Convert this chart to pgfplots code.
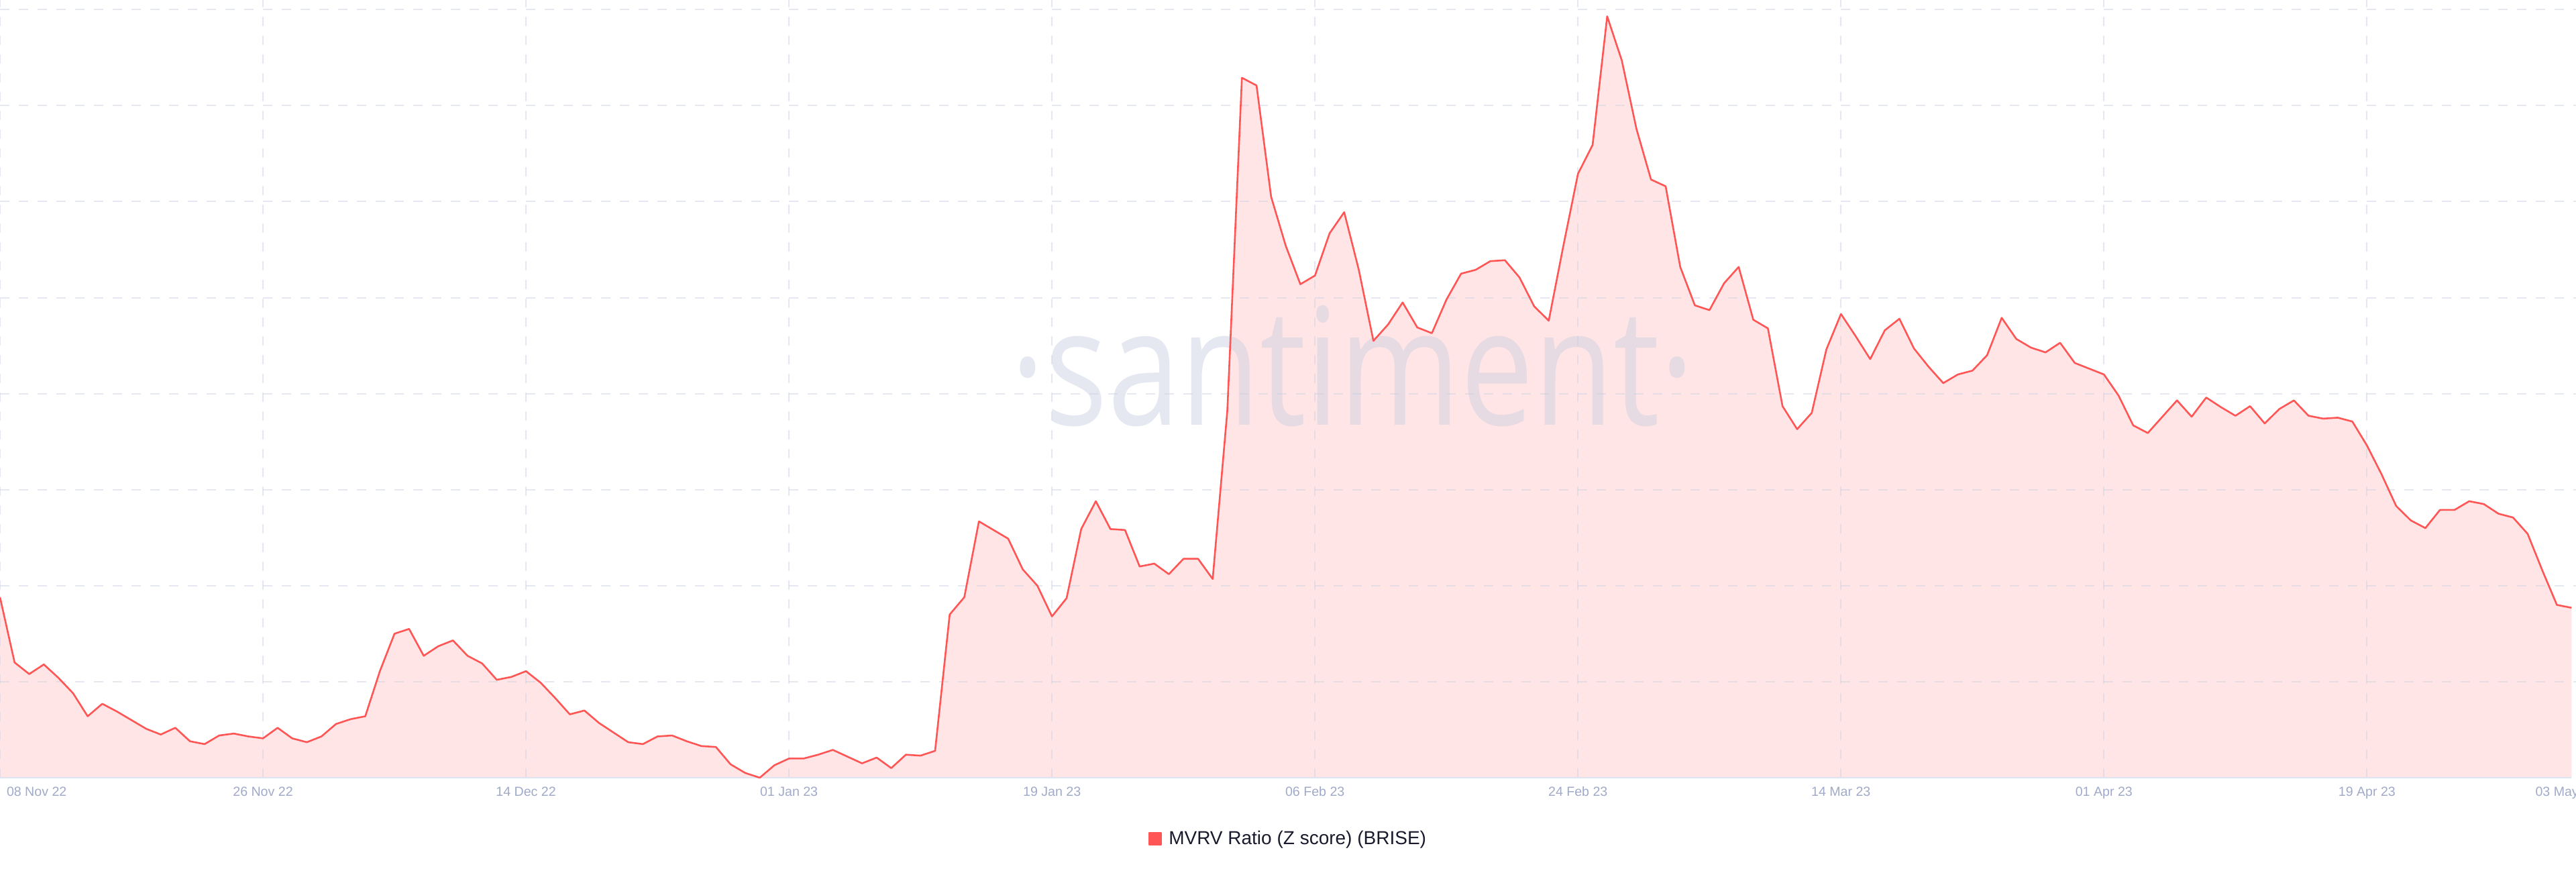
\documentclass[border=0pt]{standalone}
\usepackage{fontspec}
\setmainfont{Liberation Sans}
\newfontfamily\wmfont{Open Sans}
\usepackage{graphicx}
\usepackage{pgfplots}
\usepackage{pgfplotstable}
\pgfplotsset{compat=1.18}

\definecolor{mvrv}{RGB}{255,85,85}
\definecolor{mvrvfill}{RGB}{255,229,230}
\definecolor{gridc}{RGB}{200,205,225}
\definecolor{ticklab}{RGB}{160,170,200}
\definecolor{axisc}{RGB}{220,228,240}
\definecolor{legtext}{RGB}{25,27,45}

% day (0 = 08 Nov 22), MVRV Z score (chart units, no scale shown)
\pgfplotstableread{
day z
0 1.88
1 1.20
2 1.08
3 1.18
4 1.04
5 0.88
6 0.64
7 0.77
8 0.69
9 0.60
10 0.51
11 0.45
12 0.52
13 0.38
14 0.35
15 0.44
16 0.46
17 0.43
18 0.41
19 0.52
20 0.41
21 0.37
22 0.43
23 0.56
24 0.61
25 0.64
26 1.11
27 1.50
28 1.55
29 1.27
30 1.37
31 1.43
32 1.27
33 1.19
34 1.02
35 1.05
36 1.11
37 0.99
38 0.83
39 0.66
40 0.70
41 0.57
42 0.47
43 0.37
44 0.35
45 0.43
46 0.44
47 0.38
48 0.33
49 0.32
50 0.14
51 0.05
52 0.00
53 0.13
54 0.20
55 0.20
56 0.24
57 0.29
58 0.22
59 0.15
60 0.21
61 0.10
62 0.24
63 0.23
64 0.28
65 1.70
66 1.88
67 2.67
68 2.58
69 2.49
70 2.17
71 2.00
72 1.68
73 1.87
74 2.59
75 2.88
76 2.59
77 2.58
78 2.20
79 2.23
80 2.12
81 2.28
82 2.28
83 2.07
84 3.82
85 7.29
86 7.21
87 6.05
88 5.54
89 5.14
90 5.23
91 5.67
92 5.89
93 5.29
94 4.55
95 4.72
96 4.95
97 4.69
98 4.63
99 4.98
100 5.25
101 5.29
102 5.38
103 5.39
104 5.21
105 4.91
106 4.76
107 5.54
108 6.29
109 6.59
110 7.93
111 7.47
112 6.76
113 6.23
114 6.16
115 5.32
116 4.92
117 4.87
118 5.15
119 5.32
120 4.77
121 4.68
122 3.87
123 3.63
124 3.80
125 4.46
126 4.83
127 4.60
128 4.36
129 4.66
130 4.78
131 4.47
132 4.28
133 4.11
134 4.20
135 4.24
136 4.40
137 4.79
138 4.57
139 4.48
140 4.43
141 4.53
142 4.32
143 4.26
144 4.20
145 3.98
146 3.67
147 3.59
148 3.76
149 3.93
150 3.76
151 3.96
152 3.86
153 3.77
154 3.87
155 3.69
156 3.84
157 3.93
158 3.77
159 3.74
160 3.75
161 3.71
162 3.46
163 3.16
164 2.83
165 2.68
166 2.60
167 2.79
168 2.79
169 2.88
170 2.85
171 2.75
172 2.71
173 2.54
174 2.16
175 1.80
176 1.77
}\mvrvdata

\begin{document}
\begin{tikzpicture}
\begin{axis}[
  at={(0,0)}, anchor=south west,
  set layers,
  scale only axis,
  width=960pt, height=289.75pt,
  xmin=0, xmax=176.31,
  ymin=0, ymax=8.1,
  axis line style={draw=none},
  tick style={draw=none},
  major tick length=0pt,
  xtick={0,18,...,162},
  xticklabels={{\makebox[0pt][l]{\hspace*{2.5pt}08 Nov 22}},26 Nov 22,14 Dec 22,01 Jan 23,19 Jan 23,06 Feb 23,24 Feb 23,14 Mar 23,01 Apr 23,19 Apr 23},
  extra x ticks={176},
  extra x tick labels={{\hspace*{-4pt}03 May 23}},
  extra x tick style={grid=none},
  xticklabel style={anchor=base, yshift=-6.85pt, inner sep=0pt, text=ticklab,
    font=\fontsize{4.9pt}{5.5pt}\selectfont},
  ytick={1,...,8},
  yticklabels={},
  xmajorgrids, ymajorgrids,
  grid style={draw=gridc, draw opacity=0.45, line width=0.5pt, dash pattern=on 3.5pt off 3.5pt},
  clip=false,
  legend style={at={(axis description cs:0.4997,-0.0794)}, anchor=center,
    draw=none, fill=none, inner sep=0pt,
    font=\fontsize{7pt}{8pt}\selectfont, text=legtext,
    nodes={inner sep=0pt},
    /tikz/every odd column/.append style={column sep=2.5pt}},
  legend image code/.code={\fill[mvrv] (0pt,-2.0pt) rectangle (4.5pt,2.5pt);},
]
\addplot[on layer=axis background, draw=none, fill=mvrvfill, forget plot]
  table[x=day, y=z] {\mvrvdata} \closedcycle;
\draw[axisc, line width=0.5pt] (axis cs:0,0) -- (axis cs:176,0);
\node[anchor=base, inner sep=0pt, text=gridc, text opacity=0.45,
  font=\wmfont\fontsize{60.75pt}{70pt}\selectfont]
  at (axis cs:92.59,3.676) {\scalebox{0.8}[1]{·santiment·}};
\addplot[mvrv, line width=0.65pt, line join=round, mark=none]
  table[x=day, y=z] {\mvrvdata};
\addlegendentry{MVRV Ratio (Z score) (BRISE)}
\end{axis}
\pgfresetboundingbox
\path (0,-35.25pt) rectangle (960pt,289.75pt);
\end{tikzpicture}
\end{document}
